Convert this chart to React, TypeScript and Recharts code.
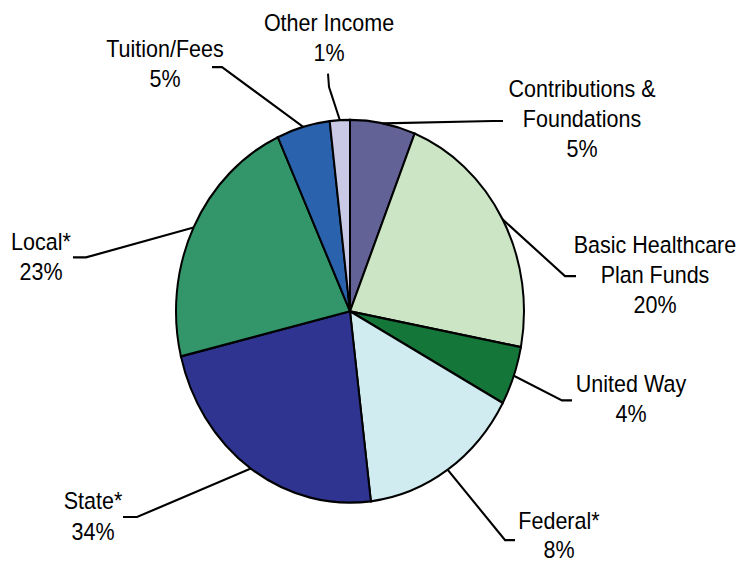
import { PieChart, Pie, Cell } from "recharts"

// slice order is clockwise from 12 o'clock
const categories = [
    ["Contributions &", "Foundations"],
    ["Basic Healthcare", "Plan Funds"],
    ["United Way"],
    ["Federal*"],
    ["State*"],
    ["Local*"],
    ["Tuition/Fees"],
    ["Other Income"],
]
// share of the circle as drawn (degrees of arc)
const drawnShare = [21.8, 79.0, 17.8, 54.5, 83.3, 79.1, 17.8, 6.7]
// percentages printed on the labels
const percentLabels = ["5%", "20%", "4%", "8%", "34%", "23%", "5%", "1%"]

const COLORS = ["#626297", "#cce6c5", "#15763a", "#d0ecf0", "#2e348f", "#32966a", "#2a62ad", "#c9c9e6"]

// leader elbow, leader end and text anchor (centre x, first baseline) for each label
const LABEL_LAYOUT = [
    { elbow: [493, 110], end: [503, 110], text: [582, 88] },
    { elbow: [565, 251], end: [576, 251], text: [655, 230] },
    { elbow: [562, 364], end: [572, 364], text: [631, 356] },
    { elbow: [505, 491], end: [515, 491], text: [559, 481] },
    { elbow: [137, 470], end: [123, 470], text: [93, 463] },
    { elbow: [86, 234], end: [73, 234], text: [41, 227] },
    { elbow: [222, 61], end: [212, 61], text: [165, 52] },
    { elbow: [329, 79], end: [328, 67], text: [329, 28] },
]

const RADIAN = Math.PI / 180
const LINE_GAP = 27.5

const chartData = categories.map((c, i) => ({
    name: c.join(" "),
    lines: c,
    pct: percentLabels[i],
    value: drawnShare[i],
}))

function renderLabel(props: any) {
    const { cx, cy, midAngle, outerRadius, index } = props
    const layout = LABEL_LAYOUT[index]
    const sx = cx + outerRadius * Math.cos(-midAngle * RADIAN)
    const sy = cy + outerRadius * Math.sin(-midAngle * RADIAN)
    const lines = [...chartData[index].lines, chartData[index].pct]
    // Federal's bottom line sits right on the image edge, so it gets a tighter gap
    const gap = index === 3 ? 26 : LINE_GAP
    return (
        <g key={`lbl-${index}`}>
            <polyline
                points={`${sx},${sy} ${layout.elbow[0]},${layout.elbow[1]} ${layout.end[0]},${layout.end[1]}`}
                fill="none"
                stroke="#000"
                strokeWidth={2}
            />
            {lines.map((t, i) => (
                <text
                    key={i}
                    x={layout.text[0]}
                    y={layout.text[1] + i * gap}
                    textAnchor="middle"
                    fontFamily="'Liberation Sans', Arial, sans-serif"
                    fontSize={21.5}
                    fill="#000"
                >
                    {t}
                </text>
            ))}
        </g>
    )
}

export default function App() {
    return (
        // the source image is stretched vertically, so the whole chart is scaled the same way
        <div style={{ position: "absolute", left: 0, top: 0, width: 744, height: 512, background: "#fff", transform: "scaleY(1.1)", transformOrigin: "0 0" }}>
            <PieChart width={744} height={512} margin={{ top: 0, right: 0, bottom: 0, left: 0 }}>
                <Pie
                    data={chartData}
                    dataKey="value"
                    cx={350}
                    cy={283}
                    outerRadius={174}
                    startAngle={90}
                    endAngle={-270}
                    stroke="#000"
                    strokeWidth={2}
                    labelLine={false}
                    label={renderLabel}
                    isAnimationActive={false}
                >
                    {chartData.map((_, index) => (
                        <Cell key={index} fill={COLORS[index % COLORS.length]} />
                    ))}
                </Pie>
            </PieChart>
        </div>
    )
}
